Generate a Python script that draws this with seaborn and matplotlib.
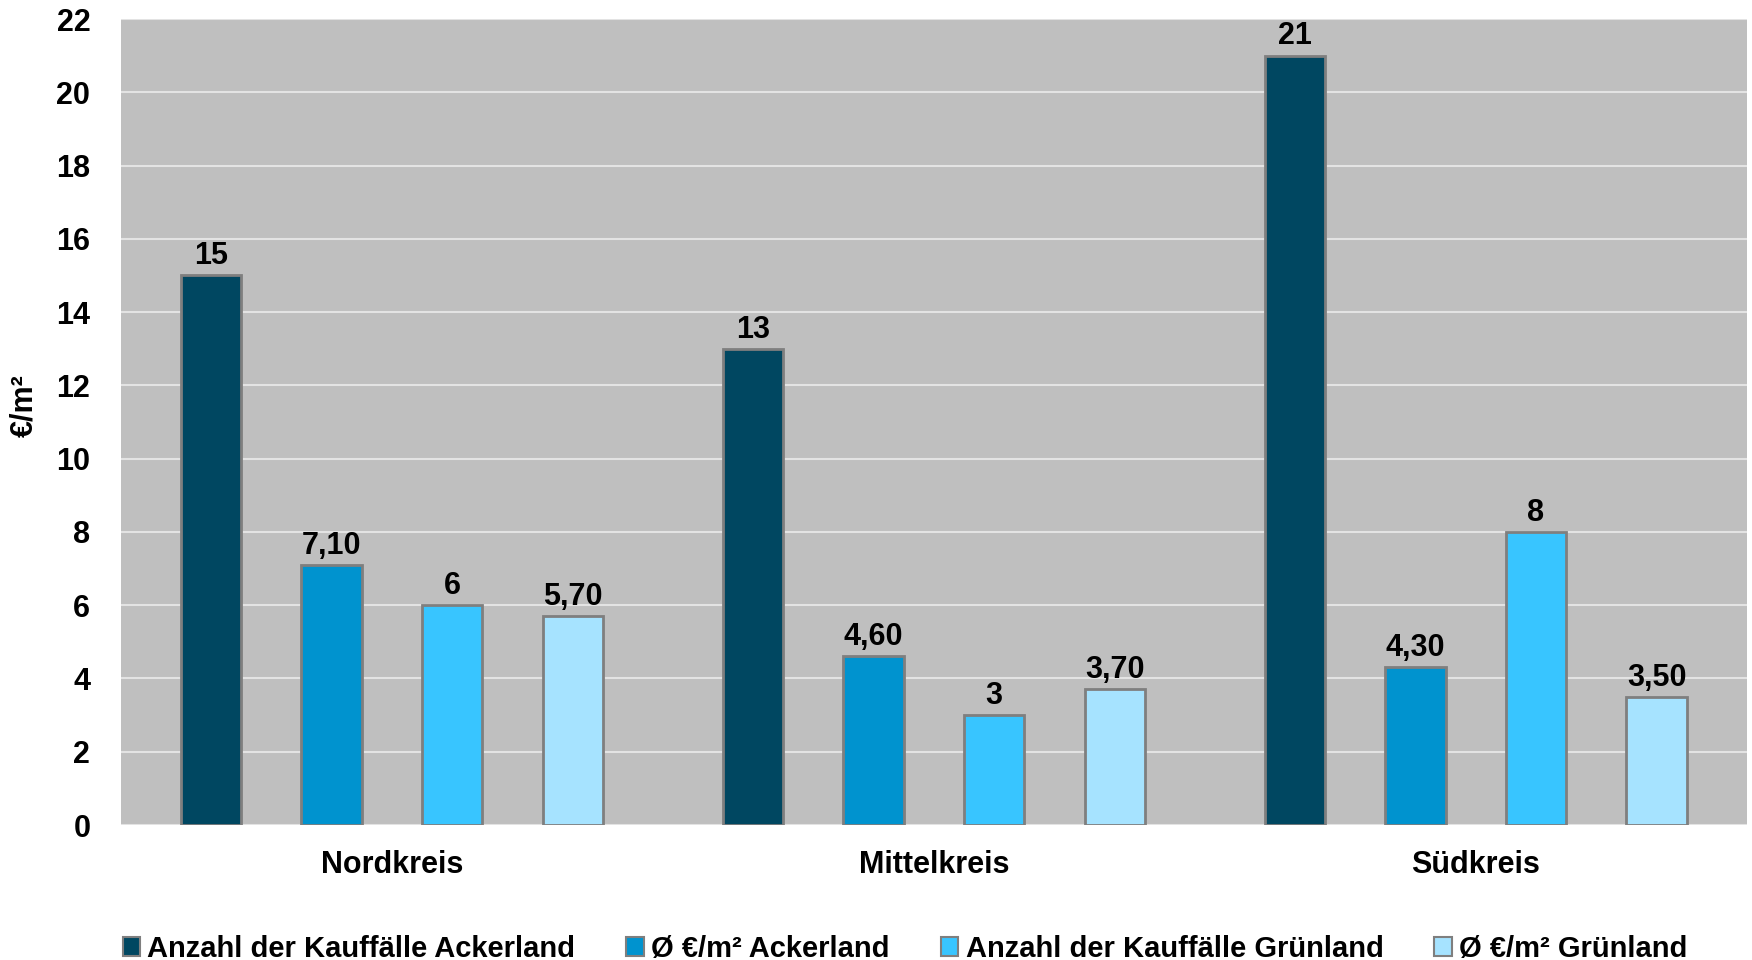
import matplotlib
matplotlib.use("Agg")
import matplotlib.pyplot as plt
import seaborn as sns
import pandas as pd

# Regions and series
regions = ["Nordkreis", "Mittelkreis", "Südkreis"]
series = [
    "Anzahl der Kauffälle Ackerland",
    "Ø €/m² Ackerland",
    "Anzahl der Kauffälle Grünland",
    "Ø €/m² Grünland",
]
faelle_acker = [15, 13, 21]
preis_acker = [7.10, 4.60, 4.30]
faelle_gruen = [6, 3, 8]
preis_gruen = [5.70, 3.70, 3.50]
colors = ["#004761", "#0093CF", "#38C5FF", "#A6E3FF"]

values = [faelle_acker, preis_acker, faelle_gruen, preis_gruen]
is_count = [True, False, True, False]

df = pd.DataFrame(
    [(r, s, v[i]) for s, v in zip(series, values) for i, r in enumerate(regions)],
    columns=["Region", "Reihe", "Wert"],
)

sns.set_theme(style="whitegrid")
plt.rcParams["font.family"] = ["Liberation Sans", "DejaVu Sans"]
plt.rcParams["font.weight"] = "bold"
for key in ["text.color", "axes.labelcolor", "xtick.color", "ytick.color"]:
    plt.rcParams[key] = "black"

fig = plt.figure(figsize=(17.52, 9.6), dpi=100)
ax = fig.add_axes([0.069, 0.1406, 0.928, 0.8396])

sns.barplot(
    data=df, x="Region", y="Wert", hue="Reihe", hue_order=series,
    order=regions, palette=colors, saturation=1, width=0.89, gap=0.5,
    edgecolor="#7F7F7F", linewidth=2.0, ax=ax, legend=False,
    err_kws={"linewidth": 0},
)

ax.set_facecolor("#BFBFBF")
ax.set_ylim(0, 22)
ax.set_xlim(-0.5, 2.5)
ax.set_yticks(range(0, 23, 2))
ax.grid(axis="y", color="#E3E3E3", linewidth=1.5)
ax.grid(axis="x", visible=False)
ax.set_axisbelow(True)
for sp in ax.spines.values():
    sp.set_visible(False)

ax.tick_params(axis="y", length=0, pad=22, labelsize=22)
ax.tick_params(axis="x", length=0, pad=18, labelsize=22)
for lbl in ax.get_yticklabels() + ax.get_xticklabels():
    lbl.set_fontweight("bold")
ax.set_xlabel("")
ax.set_ylabel("€/m²", fontsize=22, fontweight="bold")
ax.yaxis.set_label_coords(-0.050, 0.52)

# Value labels above each bar
for cont, vals, cnt in zip(ax.containers, values, is_count):
    if cnt:
        labels = [f"{v:d}" for v in vals]
    else:
        labels = [f"{v:.2f}".replace(".", ",") for v in vals]
    ax.bar_label(cont, labels=labels, padding=3, fontsize=22, fontweight="bold")

handles = [
    plt.Rectangle((0, 0), 1, 1, facecolor=c, edgecolor="#7F7F7F", linewidth=1.5)
    for c in colors
]
fig.legend(
    handles, series, loc="lower center", ncol=4, frameon=False,
    bbox_to_anchor=(0.5166, -0.03), prop={"size": 21, "weight": "bold"},
    handlelength=0.6, handleheight=0.6, handletextpad=0.25, columnspacing=1.75,
)

fig.savefig("out.png", dpi=100, facecolor="white")
